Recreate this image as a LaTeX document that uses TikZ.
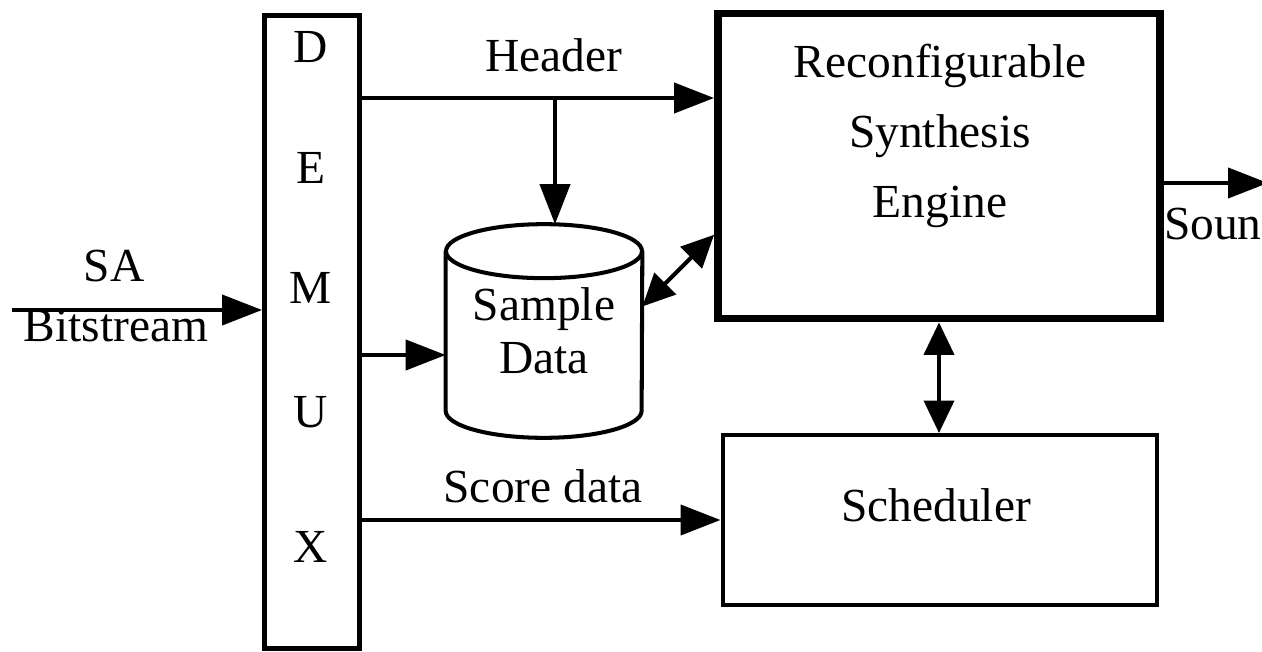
\documentclass[tikz,border=0pt]{standalone}
\usepackage{fontspec}
\setmainfont{Liberation Serif}
\usepackage{tikz}
\usetikzlibrary{arrows.meta}

\begin{document}
\begin{tikzpicture}[x=0.02cm,y=-0.02cm]
	\tikzset{font=\fontsize{27}{32}\selectfont}
	
	\tikzset{block/.style = {shape=rectangle,draw,line width=2.3pt,inner sep=0pt}}
	
	\tikzset{edge/.style = {line width=2.3pt,-{Triangle[length=0.8cm,width=0.6cm]}}}
	
	\tikzset{dedge/.style = {line width=2.3pt,{Triangle[length=0.65cm,width=0.6cm]}-{Triangle[length=0.65cm,width=0.6cm]}}}
	
	\useasboundingbox (0,0) rectangle (1262,652);
	
	% blocks
	
	\node[block,line width=2.8pt,minimum width=1.9cm,minimum height=12.68cm] (demux) at (312,332) {};
	
	\foreach \l/\y in {D/47,E/168,M/288,U/412,X/547}
		\node (let\l) at (311,\y) {\l};
	
	\node[block,line width=4.5pt,minimum width=8.84cm,minimum height=6.1cm] (rse) at (939,166) {};
	
	\node[align=center,font=\fontsize{27}{40}\selectfont] (rsetxt) at (940,136) {Reconfigurable\\Synthesis\\Engine};
	
	\node[block,minimum width=8.7cm,minimum height=3.4cm] (sched) at (940,520) {};
	
	\node (schedtxt) at (936,505) {Scheduler};
	
	% sample store (cylinder)
	\node[align=center,inner sep=0pt,minimum width=3.92cm,minimum height=4.26cm,
		font=\fontsize{27}{30}\selectfont] (sample) at (544,331) {Sample\\Data};
	\draw[line width=2.3pt] ([yshift=-0.54cm]sample.north west) -- ([yshift=0.54cm]sample.south west)
		arc[start angle=180,end angle=360,x radius=1.96cm,y radius=0.54cm] -- ([yshift=-0.54cm]sample.north east);
	\draw[line width=2.3pt] ([yshift=-0.54cm]sample.north) ellipse[x radius=1.96cm,y radius=0.54cm];
	
	% labels
	
	\node (hdrlbl) at (554,55) {Header};
	
	\node (scorelbl) at (543,486) {Score data};
	
	\node (salbl) at (114,266) {SA};
	
	\node (bitlbl) at (116,326) {Bitstream};
	
	\node[anchor=east,inner sep=0pt] (sndlbl) at (1262,224) {Soun};
	
	% edges
	
	\coordinate (hdr) at (555,98);
	\coordinate (smp) at (0,355);
	\coordinate (sain) at (12,310);
	\coordinate (sndout) at (1268,183);
	
	\draw[edge] (sain) -- (demux.west |- sain);
	\draw[edge] (demux.east |- hdr) -- (rse.west |- hdr);
	\draw[edge] (hdr) -- (hdr |- sample.north);
	\draw[edge] (demux.east |- smp) -- (sample.west |- smp);
	\draw[edge] (demux.east |- sched.west) -- (sched.west);
	\draw[dedge] (sample.14) -- (rse.197);
	\draw[dedge] (rse.south) -- (rse.south |- sched.north);
	\draw[edge] (rse.east |- sndout) -- (sndout);
\end{tikzpicture}
\end{document}
